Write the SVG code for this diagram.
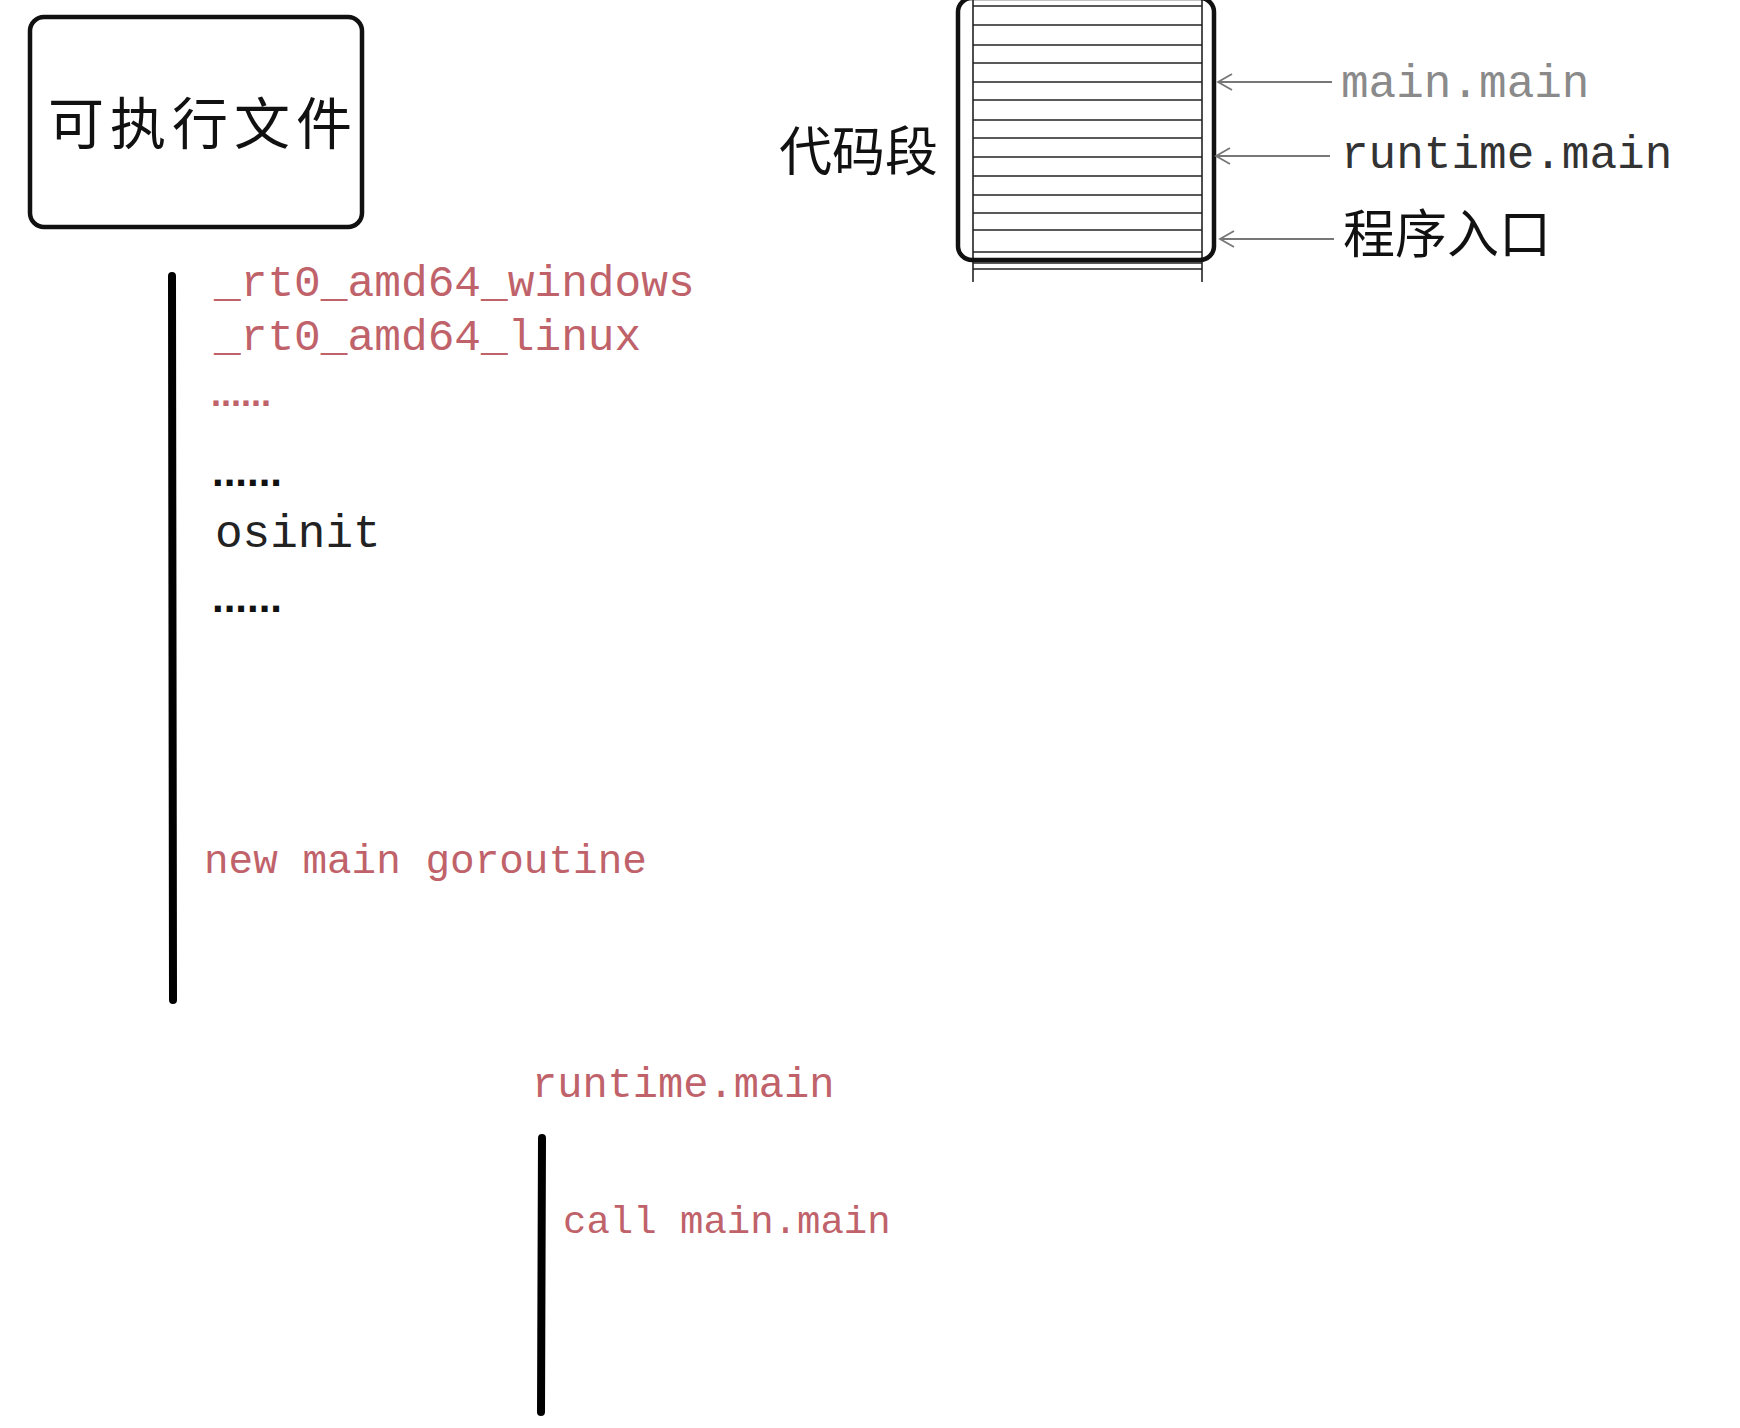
<svg xmlns="http://www.w3.org/2000/svg" width="1740" height="1428" viewBox="0 0 1740 1428">
<defs>
<style>
.mono{font-family:"Liberation Mono","Courier New",monospace;}
.cjk{font-family:"Noto Sans CJK SC",sans-serif;fill:#111;}
.dots{font-family:"Liberation Sans",Arial,sans-serif;font-weight:bold;}
.red{fill:#c0626a;}
.box{fill:none;stroke:#111;stroke-width:4.5;}
.bar{stroke:#000;stroke-width:8;stroke-linecap:round;}
.hl{stroke:#222;stroke-width:1.6;}
.conn{stroke:#777;stroke-width:2;fill:none;marker-end:url(#chev);}
</style>
<marker id="chev" viewBox="0 0 20 20" refX="18" refY="10" markerWidth="20" markerHeight="20" markerUnits="userSpaceOnUse" orient="auto">
<polyline points="4,2 18,10 4,18" fill="none" stroke="#777" stroke-width="1.8"/>
</marker>
</defs>
<rect width="1740" height="1428" fill="#fff"/>

<g id="exe">
<rect class="box" x="30" y="17" width="332" height="210" rx="14"/>
<text class="cjk" x="48" y="144" font-size="56" letter-spacing="6">可执行文件</text>
</g>

<g id="code-segment">
<text class="cjk" x="779" y="171" font-size="53">代码段</text>
<g>
<line class="hl" x1="973" y1="0" x2="973" y2="282"/>
<line class="hl" x1="1202" y1="0" x2="1202" y2="282"/>
<line class="hl" x1="973" y1="6" x2="1202" y2="6"/>
<line class="hl" x1="973" y1="25" x2="1202" y2="25"/>
<line class="hl" x1="973" y1="45" x2="1202" y2="45"/>
<line class="hl" x1="973" y1="63" x2="1202" y2="63"/>
<line class="hl" x1="973" y1="82" x2="1202" y2="82"/>
<line class="hl" x1="973" y1="100" x2="1202" y2="100"/>
<line class="hl" x1="973" y1="120" x2="1202" y2="120"/>
<line class="hl" x1="973" y1="138" x2="1202" y2="138"/>
<line class="hl" x1="973" y1="157" x2="1202" y2="157"/>
<line class="hl" x1="973" y1="176" x2="1202" y2="176"/>
<line class="hl" x1="973" y1="195" x2="1202" y2="195"/>
<line class="hl" x1="973" y1="213" x2="1202" y2="213"/>
<line class="hl" x1="973" y1="230" x2="1202" y2="230"/>
<line class="hl" x1="973" y1="252" x2="1202" y2="252"/>
<line class="hl" x1="973" y1="263" x2="1202" y2="263"/>
<line class="hl" x1="973" y1="269" x2="1202" y2="269"/>
</g>
<rect class="box" x="958" y="-2" width="256" height="262" rx="14"/>
</g>

<g id="label-main-main">
<text class="mono" x="1341" y="97" font-size="46" fill="#8a8a8a">main.main</text>
</g>
<g id="label-runtime-main">
<text class="mono" x="1341" y="168" font-size="46" fill="#333">runtime.main</text>
</g>
<g id="label-entry">
<text class="cjk" x="1343" y="253" font-size="52">程序入口</text>
</g>

<g id="connectors">
<line class="conn" x1="1332" y1="82" x2="1218" y2="82"/>
<line class="conn" x1="1330" y1="156" x2="1216" y2="156"/>
<line class="conn" x1="1334" y1="239" x2="1220" y2="239"/>
</g>

<g id="boot-sequence">
<line class="bar" x1="172" y1="276" x2="173" y2="1000"/>
<text class="mono red" x="214" y="296" font-size="44.5">_rt0_amd64_windows</text>
<text class="mono red" x="214" y="350" font-size="44.5">_rt0_amd64_linux</text>
<text class="dots" x="211" y="406" font-size="36" fill="#c0626a">......</text>
<text class="dots" x="212" y="486" font-size="42" fill="#111">......</text>
<text class="mono" x="215" y="547" font-size="46" fill="#222">osinit</text>
<text class="dots" x="212" y="612" font-size="42" fill="#111">......</text>
<text class="mono red" x="204" y="873" font-size="41">new main goroutine</text>
</g>

<g id="runtime-main">
<text class="mono red" x="532" y="1097" font-size="42">runtime.main</text>
<line class="bar" x1="542" y1="1138" x2="541" y2="1412"/>
<text class="mono red" x="563" y="1233" font-size="39">call main.main</text>
</g>
</svg>
